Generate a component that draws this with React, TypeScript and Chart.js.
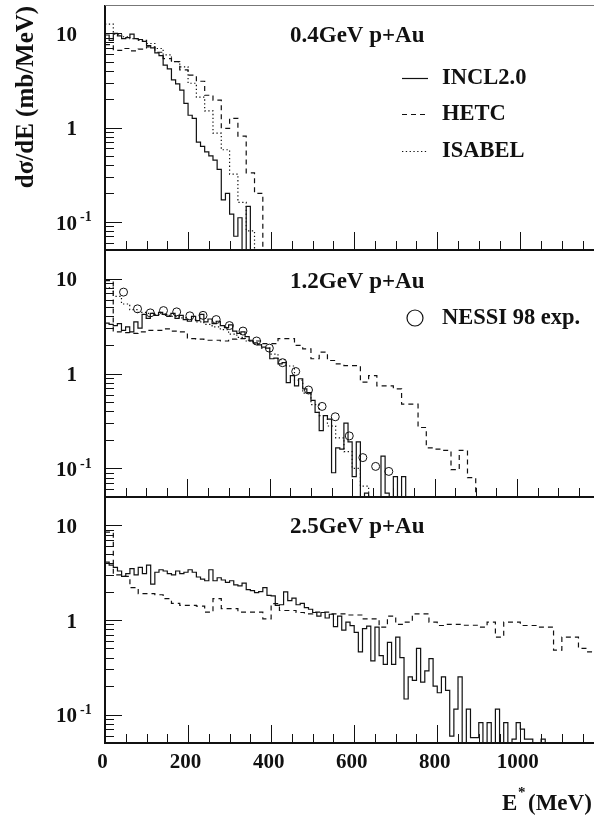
import React, { useEffect, useRef } from 'react';
import { Chart, registerables } from 'chart.js';

Chart.register(...registerables);

// ---- page geometry -------------------------------------------------------
const W = 594;
const H = 817;
const PLOT_LEFT = 105;
const PLOT_RIGHT = 593;
const SERIF = '"Liberation Serif", "Times New Roman", serif';
const INK = '#111';

// ---- axes ----------------------------------------------------------------
const X_MAX = 1175;
const X_TICK_LABELS = [0, 200, 400, 600, 800, 1000];
const X_MAJOR_STEP = 200;
const X_MINOR_STEP = 50;
const Y_MIN = 0.05;
const Y_MAX = 20;
const Y_TICK_VALUES = [0.1, 1, 10];
const Y_TICK_BASE = ['10', '1', '10'];
const Y_TICK_EXP = ['-1', '', ''];
const FLOOR = 1e-3; // empty bins fall below the axis

// ---- 0.4 GeV p+Au ----------------------------------------------------------
const INCL_04_BIN = 10;
const INCL_04 = [
  9.6, 8.4, 10.0, 9.4, 8.8, 9.0, 9.8, 8.8, 8.6, 8.2,
  7.4, 7.0, 6.2, 5.8, 4.6, 4.2, 3.2, 2.9, 2.5, 1.8,
  1.35, 1.25, 0.7, 0.63, 0.55, 0.5, 0.45, 0.36, 0.17, 0.2,
  0.12, 0.07, 0.11, 0.04, 0.145,
];
const HETC_04_BIN = 20;
const HETC_04 = [
  7.6, 6.6, 6.9, 6.5, 6.8, 7.2, 6.3, 5.4, 5.0, 4.1,
  3.6, 3.1, 2.2, 1.95, 0.98, 1.25, 0.81, 0.33, 0.2,
];
const ISABEL_04_BIN = 20;
const ISABEL_04 = [
  12.5, 9.8, 9.2, 8.8, 8.4, 7.8, 6.9, 5.9, 5.0, 4.4,
  2.95, 2.1, 1.5, 0.87, 0.58, 0.32, 0.16, 0.08,
];

// ---- 1.2 GeV p+Au ----------------------------------------------------------
const INCL_12_BIN = 10;
const INCL_12 = [
  3.4, 3.3, 3.2, 3.35, 2.85, 3.1, 2.75, 3.5, 3.0, 4.2,
  3.8, 4.3, 4.1, 4.4, 4.2, 4.0, 4.3, 3.8, 4.1, 3.7,
  3.55, 4.0, 3.6, 4.2, 3.5, 3.75, 3.35, 3.55, 3.2, 3.05,
  3.25, 2.8, 2.65, 2.75, 2.45, 2.2, 2.1, 2.0, 1.9, 1.85,
  1.43, 1.45, 1.26, 1.3, 0.8, 0.95, 0.74, 0.88, 0.69, 0.63,
  0.52, 0.39, 0.25, 0.36, 0.33, 0.09, 0.165, 0.16, 0.3, 0.19,
  0.082, 0.19, 0.04, 0.055, 0.04, 0.03, 0.045, 0.135, 0.055, 0.04,
  0.082, 0.03, 0.082, 0.04,
];
const HETC_12_BIN = 20;
const HETC_12 = [
  9.5, 2.75, 2.7, 2.65, 2.75, 2.85, 2.85, 2.95, 2.8, 2.74,
  2.33, 2.3, 2.24, 2.24, 2.2, 2.3, 2.33, 2.24, 2.2, 2.06,
  2.06, 2.33, 2.33, 1.98, 1.82, 1.43, 1.68, 1.37, 1.26, 1.21,
  1.21, 0.81, 0.95, 0.74, 0.74, 0.69, 0.475, 0.475, 0.27, 0.165,
  0.16, 0.155, 0.097, 0.155, 0.08,
];
const ISABEL_12_BIN = 20;
const ISABEL_12 = [
  8.0, 6.5, 5.4, 4.7, 4.4, 4.3, 4.2, 4.1, 4.0, 3.85,
  3.7, 3.5, 3.3, 3.1, 2.9, 2.6, 2.4, 2.2, 2.05, 1.85,
  1.6, 1.4, 1.2, 0.85, 0.62, 0.47, 0.36, 0.28, 0.21, 0.15,
  0.1, 0.065,
];
const NESSI_E = [
  45, 79, 110, 142, 174, 206, 238, 270, 302, 335, 368,
  399, 431, 463, 494, 527, 559, 593, 626, 657, 689,
];
const NESSI_12 = [
  7.2, 4.8, 4.35, 4.6, 4.46, 4.05, 4.1, 3.7, 3.2, 2.8, 2.2,
  1.85, 1.3, 1.05, 0.67, 0.45, 0.35, 0.22, 0.13, 0.105, 0.093,
];

// ---- 2.5 GeV p+Au ----------------------------------------------------------
const INCL_25_BIN = 10;
const INCL_25 = [
  4.1, 3.8, 3.6, 3.3, 2.9, 3.1, 3.5, 3.0, 3.6, 3.1,
  3.8, 2.4, 3.2, 3.4, 3.3, 3.1, 3.0, 3.3, 3.1, 3.2,
  3.4, 3.2, 2.85, 2.7, 2.6, 3.4, 2.6, 2.8, 2.65, 2.5,
  2.6, 2.35, 2.3, 2.45, 2.1, 2.05, 1.95, 2.0, 2.2, 1.82,
  1.8, 1.43, 1.45, 1.98, 1.6, 1.7, 1.45, 1.5, 1.35, 1.3,
  1.2, 1.1, 1.2, 1.05, 1.15, 0.85, 1.1, 0.78, 0.95, 0.87,
  0.74, 0.46, 0.81, 0.86, 0.37, 0.84, 0.42, 0.34, 0.58, 0.34,
  0.66, 0.4, 0.146, 0.25, 0.23, 0.5, 0.22, 0.29, 0.39, 0.2,
  0.17, 0.25, 0.18, 0.059, 0.114, 0.25, 0.04, 0.114, 0.057, 0.057,
  0.082, 0.04, 0.082, 0.04, 0.114, 0.04, 0.082, 0.04, 0.055, 0.082,
  0.07, 0.055, 0.055, 0.04, 0.04, 0.055,
];
const HETC_25_BIN = 20;
const HETC_25 = [
  8.5, 3.0, 2.9, 2.2, 1.9, 1.9, 1.85, 1.68, 1.5, 1.43,
  1.43, 1.4, 1.21, 1.68, 1.32, 1.32, 1.21, 1.21, 1.21, 1.03,
  1.49, 1.26, 1.26, 1.2, 1.16, 1.21, 1.21, 1.16, 1.16, 1.13,
  1.13, 1.03, 1.03, 0.84, 1.1, 0.9, 0.95, 1.16, 1.16, 0.95,
  0.875, 0.9, 0.9, 0.88, 0.88, 0.84, 0.95, 0.66, 0.95, 0.95,
  0.875, 0.875, 0.84, 0.84, 0.48, 0.66, 0.66, 0.5, 0.46,
];

// ---- line styles -----------------------------------------------------------
const SOLID: number[] = [];
const DASHED = [5, 4];
const DOTTED = [1.3, 2.5];

type LegendItem = { label: string; dash?: number[]; marker?: boolean; y: number };
type PanelSpec = {
  top: number;
  bottom: number;
  title: string;
  titleY: number;
  datasets: any[];
  legend: LegendItem[];
  yTitle: boolean;
  xLabels: boolean;
};

// histogram bins -> step-line points (left edges, closing edge drops to the floor)
function histPoints(values: number[], binWidth: number) {
  const pts = values.map((v, i) => ({ x: i * binWidth, y: v }));
  pts.push({ x: values.length * binWidth, y: FLOOR });
  return pts;
}

function histSet(label: string, values: number[], binWidth: number, dash: number[]) {
  return {
    type: 'line',
    label,
    data: histPoints(values, binWidth),
    stepped: 'before',
    borderColor: INK,
    borderWidth: 1.2,
    borderDash: dash,
    pointRadius: 0,
    fill: false,
    tension: 0,
  };
}

function pointSet(label: string, xs: number[], ys: number[]) {
  return {
    type: 'scatter',
    label,
    data: xs.map((x, i) => ({ x, y: ys[i] })),
    showLine: false,
    pointStyle: 'circle',
    pointRadius: 4,
    borderColor: INK,
    borderWidth: 1,
    backgroundColor: 'rgba(0,0,0,0)',
  };
}

const PANELS: PanelSpec[] = [
  {
    top: 5,
    bottom: 250,
    title: '0.4GeV p+Au',
    titleY: 36,
    datasets: [
      histSet('INCL2.0', INCL_04, INCL_04_BIN, SOLID),
      histSet('HETC', HETC_04, HETC_04_BIN, DASHED),
      histSet('ISABEL', ISABEL_04, ISABEL_04_BIN, DOTTED),
    ],
    legend: [
      { label: 'INCL2.0', dash: SOLID, y: 78 },
      { label: 'HETC', dash: DASHED, y: 114 },
      { label: 'ISABEL', dash: DOTTED, y: 151 },
    ],
    yTitle: true,
    xLabels: false,
  },
  {
    top: 250,
    bottom: 497,
    title: '1.2GeV p+Au',
    titleY: 282,
    datasets: [
      histSet('INCL2.0', INCL_12, INCL_12_BIN, SOLID),
      histSet('HETC', HETC_12, HETC_12_BIN, DASHED),
      histSet('ISABEL', ISABEL_12, ISABEL_12_BIN, DOTTED),
      pointSet('NESSI 98 exp.', NESSI_E, NESSI_12),
    ],
    legend: [{ label: 'NESSI 98 exp.', marker: true, y: 318 }],
    yTitle: false,
    xLabels: false,
  },
  {
    top: 497,
    bottom: 743,
    title: '2.5GeV p+Au',
    titleY: 527,
    datasets: [
      histSet('INCL2.0', INCL_25, INCL_25_BIN, SOLID),
      histSet('HETC', HETC_25, HETC_25_BIN, DASHED),
    ],
    legend: [],
    yTitle: false,
    xLabels: true,
  },
];

function yMinorValues() {
  const out: number[] = [];
  for (const decade of [0.01, 0.1, 1, 10]) {
    for (let m = 2; m <= 9; m++) {
      const v = m * decade;
      if (v > Y_MIN * 1.0001 && v < Y_MAX * 0.9999) out.push(v);
    }
  }
  return out;
}

function line(ctx: CanvasRenderingContext2D, x1: number, y1: number, x2: number, y2: number) {
  ctx.beginPath();
  ctx.moveTo(x1, y1);
  ctx.lineTo(x2, y2);
  ctx.stroke();
}

function makeDecor(p: PanelSpec) {
  return {
    id: 'panelDecor',
    afterDatasetsDraw(chart: any) {
      const ctx: CanvasRenderingContext2D = chart.ctx;
      const a = chart.chartArea;
      const xs = chart.scales.x;
      const ys = chart.scales.y;
      ctx.save();
      ctx.strokeStyle = INK;
      ctx.fillStyle = INK;
      ctx.setLineDash([]);

      // ticks along the lower edge, pointing into the panel
      ctx.lineWidth = 1;
      for (let v = X_MINOR_STEP; v < X_MAX; v += X_MINOR_STEP) {
        const px = Math.round(xs.getPixelForValue(v)) + 0.5;
        const len = v % X_MAJOR_STEP === 0 ? 18 : 9;
        line(ctx, px, a.bottom, px, a.bottom - len);
      }
      // ticks along the left edge
      for (const v of Y_TICK_VALUES) {
        const py = Math.round(ys.getPixelForValue(v)) + 0.5;
        line(ctx, a.left, py, a.left + 17, py);
      }
      for (const v of yMinorValues()) {
        const py = Math.round(ys.getPixelForValue(v)) + 0.5;
        line(ctx, a.left, py, a.left + 9, py);
      }

      // frame
      ctx.lineWidth = 2;
      line(ctx, a.left, a.top, a.left, a.bottom + 1);
      line(ctx, a.left - 1, a.bottom, W, a.bottom);
      if (p.yTitle) {
        ctx.strokeStyle = '#777';
        ctx.lineWidth = 1;
        line(ctx, a.left, a.top + 0.5, W, a.top + 0.5);
        ctx.strokeStyle = INK;
      }

      // y tick labels
      ctx.textBaseline = 'middle';
      Y_TICK_VALUES.forEach((v, i) => {
        const py = ys.getPixelForValue(v) + 2.5;
        ctx.font = `bold 21px ${SERIF}`;
        ctx.textAlign = 'right';
        ctx.fillText(Y_TICK_BASE[i], 77, py);
        if (Y_TICK_EXP[i]) {
          ctx.font = `bold 14px ${SERIF}`;
          ctx.textAlign = 'left';
          ctx.fillText(Y_TICK_EXP[i], 80, py - 7);
        }
      });

      // panel title
      ctx.font = `bold 23px ${SERIF}`;
      ctx.textAlign = 'left';
      ctx.fillText(p.title, 290, p.titleY);

      // legend
      for (const item of p.legend) {
        if (item.marker) {
          ctx.lineWidth = 1.2;
          ctx.beginPath();
          ctx.arc(415, item.y, 8, 0, Math.PI * 2);
          ctx.stroke();
        } else {
          ctx.lineWidth = 1.2;
          ctx.setLineDash(item.dash || []);
          line(ctx, 402, item.y + 0.5, 428, item.y + 0.5);
          ctx.setLineDash([]);
        }
        ctx.font = `bold 22.5px ${SERIF}`;
        ctx.textAlign = 'left';
        ctx.fillText(item.label, 442, item.y);
      }

      // shared y-axis title
      if (p.yTitle) {
        ctx.save();
        ctx.translate(33, 97);
        ctx.rotate(-Math.PI / 2);
        ctx.font = `bold 25px ${SERIF}`;
        ctx.textAlign = 'center';
        ctx.textBaseline = 'alphabetic';
        ctx.fillText('dσ/dE (mb/MeV)', 0, 0);
        ctx.restore();
      }

      // x tick labels and x-axis title
      if (p.xLabels) {
        ctx.font = `bold 21px ${SERIF}`;
        ctx.textAlign = 'center';
        ctx.textBaseline = 'middle';
        for (const v of X_TICK_LABELS) {
          ctx.fillText(String(v), xs.getPixelForValue(v) - 2.5, 763);
        }
        ctx.textAlign = 'left';
        ctx.textBaseline = 'alphabetic';
        ctx.font = `bold 23px ${SERIF}`;
        ctx.fillText('E', 502, 810);
        ctx.font = `bold 15px ${SERIF}`;
        ctx.fillText('*', 518, 797);
        ctx.font = `bold 23px ${SERIF}`;
        ctx.fillText('(MeV)', 528, 810);
      }
      ctx.restore();
    },
  };
}

function Panel({ spec }: { spec: PanelSpec }) {
  const ref = useRef<HTMLCanvasElement | null>(null);
  useEffect(() => {
    if (!ref.current) return;
    const chart = new Chart(ref.current, {
      type: 'line',
      data: { datasets: spec.datasets },
      options: {
        animation: false,
        responsive: false,
        devicePixelRatio: 1,
        events: [],
        layout: {
          padding: {
            left: PLOT_LEFT,
            right: W - PLOT_RIGHT,
            top: spec.top,
            bottom: H - spec.bottom,
          },
        },
        scales: {
          x: { type: 'linear', min: 0, max: X_MAX, display: false },
          y: { type: 'logarithmic', min: Y_MIN, max: Y_MAX, display: false },
        },
        plugins: {
          legend: { display: false },
          tooltip: { enabled: false },
          title: { display: false },
        },
      } as any,
      plugins: [makeDecor(spec)],
    } as any);
    return () => chart.destroy();
  }, [spec]);
  return (
    <canvas
      ref={ref}
      width={W}
      height={H}
      style={{ position: 'absolute', left: 0, top: 0, width: W, height: H }}
    />
  );
}

export default function App() {
  return (
    <div style={{ position: 'absolute', left: 0, top: 0, width: W, height: H, background: '#fff', overflow: 'hidden' }}>
      {PANELS.map((p) => (
        <Panel key={p.title} spec={p} />
      ))}
    </div>
  );
}
